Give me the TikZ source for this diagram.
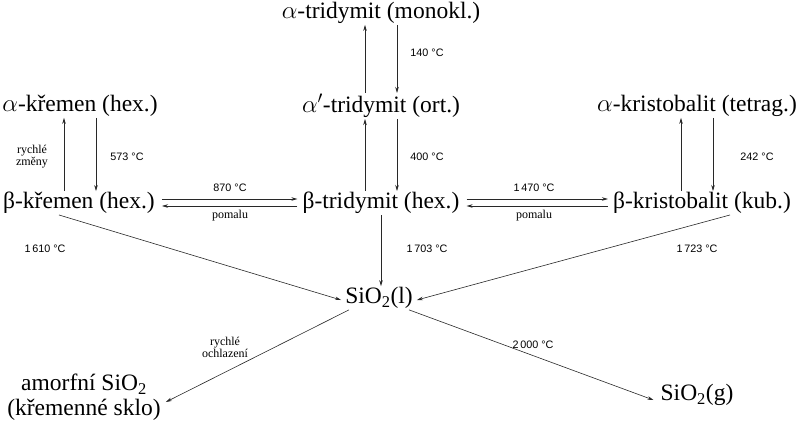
\documentclass[tikz,border=0pt]{standalone}
\usepackage{fontspec}
\setmainfont{Liberation Serif}
\newfontfamily\teplfont{Liberation Sans}
\usetikzlibrary{calc,positioning,arrows.meta}
\definecolor{linegray}{RGB}{40,40,40}

\begin{document}
\begin{tikzpicture}[x=1pt,y=-1pt,
    faze/.style={font=\fontsize{23.5}{25}\selectfont, inner sep=1pt},
    tepl/.style={font=\teplfont\fontsize{10.8}{12}\selectfont, inner sep=0pt},
    popis/.style={font=\fontsize{12}{12}\selectfont, inner sep=0pt, align=center},
    prechod/.style={-{Stealth[length=6pt,width=3.5pt]}, linegray, line width=0.6pt}]
  \useasboundingbox (0,0) rectangle (800,423);

  % phases
  \node[faze] (tridmono) at (381,13)  {$\alpha$-tridymit (monokl.)};
  \node[faze] (kremenA)  at (80,106)  {$\alpha$-křemen (hex.)};
  \node[faze] (tridA)    at (381,106) {$\alpha'$-tridymit (ort.)};
  \node[faze] (kristA)   at (697,106) {$\alpha$-kristobalit (tetrag.)};
  \node[faze] (kremenB)  at (79,203)  {β-křemen (hex.)};
  \node[faze] (tridB)    at (381,203) {β-tridymit (hex.)};
  \node[faze] (kristB)   at (702,203) {β-kristobalit (kub.)};
  \node[faze] (tavenina) at (379,298) {SiO\textsubscript{2}(l)};
  \node[faze, align=center] (amorf) at (84,397) {amorfní SiO\textsubscript{2}\\(křemenné sklo)};
  \node[faze] (plyn)     at (697,395) {SiO\textsubscript{2}(g)};

  % alpha <-> beta
  \foreach \dolni/\horni in {kremenB/kremenA, tridB/tridA, tridA/tridmono, kristB/kristA}{
    \draw[prechod] ([xshift=-16pt]\horni.south |- \dolni.north) -- ([xshift=-16pt]\horni.south);
    \draw[prechod] ([xshift=16pt]\horni.south) -- ([xshift=16pt]\horni.south |- \dolni.north);
  }
  \node[popis] (zmeny) at (32,157) {rychlé\\změny};
  \node[tepl] (t573) at (127,157) {573 °C};
  \node[tepl] (t400) at (427,157) {400 °C};
  \node[tepl] (t140) at (427,53)  {140 °C};
  \node[tepl] (t242) at (757,157) {242 °C};

  % beta phases
  \draw[prechod] ([yshift=4pt,xshift=6pt]kremenB.east) -- ([yshift=4pt,xshift=-4pt]tridB.west);
  \draw[prechod] ([yshift=-3pt,xshift=-4pt]tridB.west) -- ([yshift=-3pt,xshift=6pt]kremenB.east);
  \draw[prechod] ([yshift=4pt,xshift=6pt]tridB.east) -- ([yshift=4pt,xshift=-4pt]kristB.west);
  \draw[prechod] ([yshift=-3pt,xshift=-4pt]kristB.west) -- ([yshift=-3pt,xshift=6pt]tridB.east);
  \node[tepl] (t870) at (230,188) {870 °C};
  \node[popis] (pomalu1) at (230,216) {pomalu};
  \node[tepl] (t1470) at (534,188) {1\,470 °C};
  \node[popis] (pomalu2) at (534,216) {pomalu};

  % melting
  \draw[prechod] ([xshift=-20pt]kremenB.south) -- ([xshift=-3pt,yshift=-2pt]tavenina.west);
  \draw[prechod] (tridB.south) -- (tridB.south |- tavenina.north);
  \draw[prechod] ([xshift=28pt]kristB.south) -- ([xshift=3pt,yshift=-2pt]tavenina.east);
  \node[tepl] (t1610) at (45,249)  {1\,610 °C};
  \node[tepl] (t1703) at (427,249) {1\,703 °C};
  \node[tepl] (t1723) at (697,249) {1\,723 °C};

  % cooling, boiling
  \draw[prechod] ([xshift=-30pt]tavenina.south) -- ([xshift=4pt,yshift=-5pt]amorf.east);
  \draw[prechod] ([xshift=30pt]tavenina.south) -- ([xshift=-6pt,yshift=-5pt]plyn.west);
  \node[popis] (ochlazeni) at (225,347) {rychlé\\ochlazení};
  \node[tepl] (t2000) at (533,345) {2\,000 °C};
\end{tikzpicture}
\end{document}
